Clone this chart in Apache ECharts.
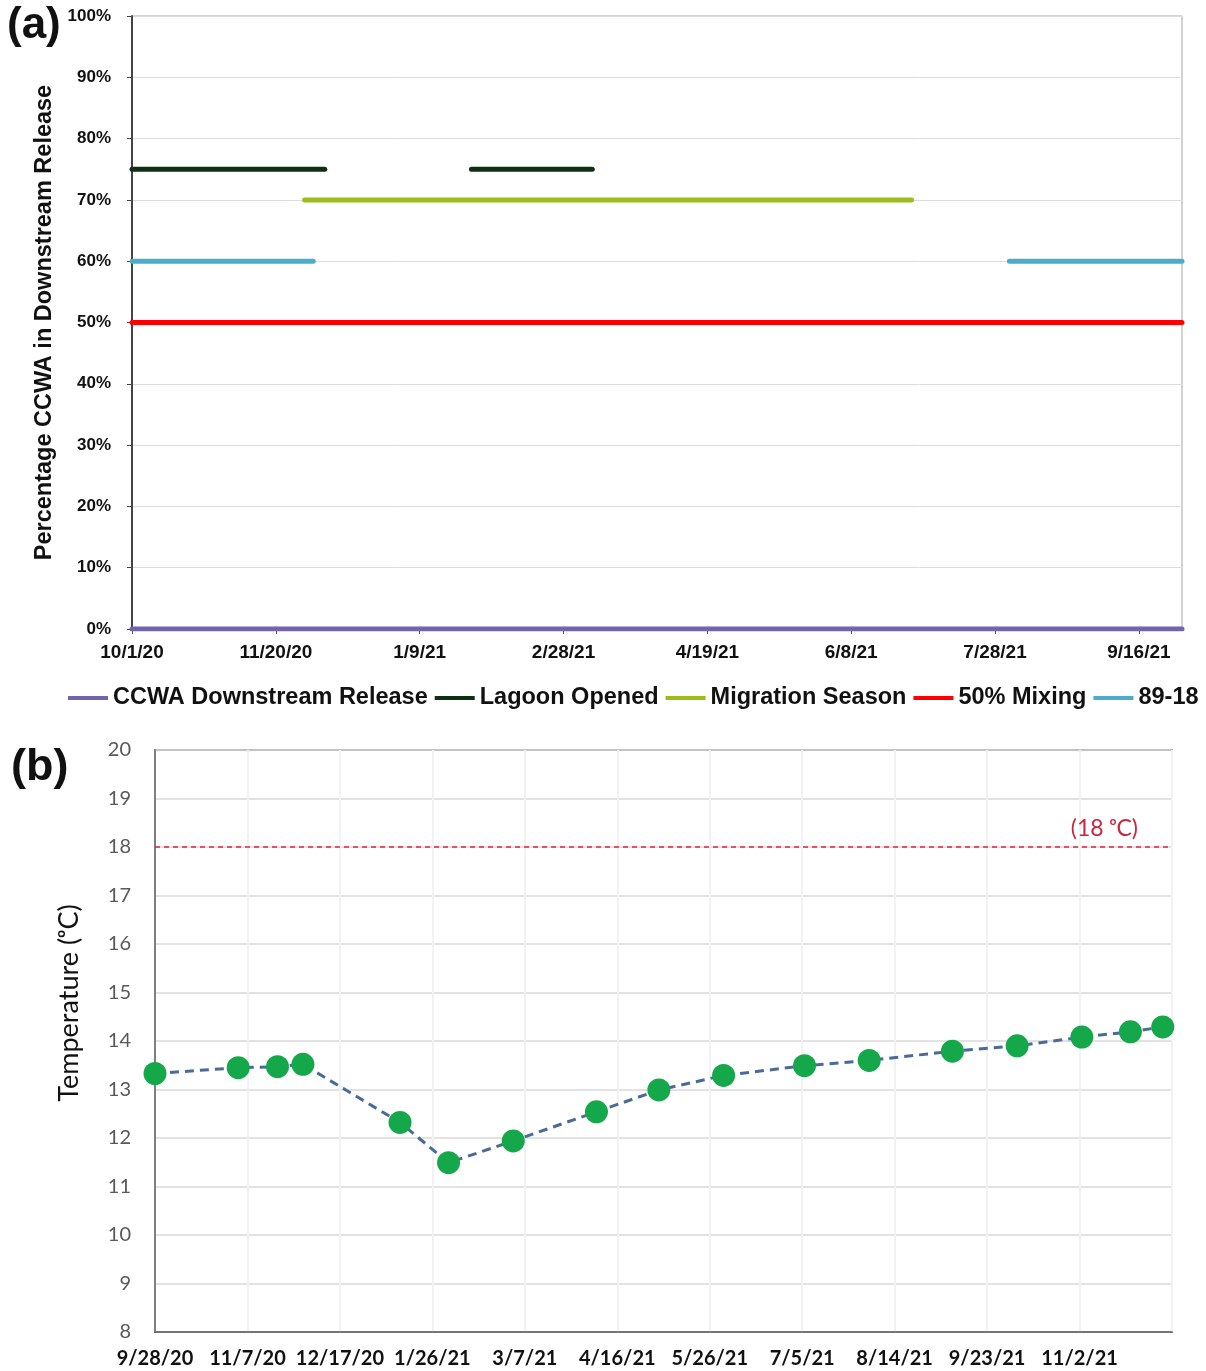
<!DOCTYPE html>
<html>
<head>
<meta charset="utf-8">
<script src="https://cdn.jsdelivr.net/npm/echarts@6/dist/echarts.min.js"></script>
<style>
html,body{margin:0;padding:0;background:#fff;}
#c{width:1206px;height:1371px;}
</style>
</head>
<body>
<div id="c"></div>
<script>
// ---------- Panel (a) data ----------
const aStart = '10/1/20';
const aEnd = '10/1/21';
const aTickStepDays = 50;
const ccwaPeriods = [['10/1/20', '10/1/21']];
const ccwaLevel = 0;
const lagoonPeriods = [['10/1/20', '12/7/20'], ['1/27/21', '3/10/21']];
const lagoonLevel = 75;
const migrationPeriods = [['11/30/20', '6/29/21']];
const migrationLevel = 70;
const mixingPeriods = [['10/1/20', '10/1/21']];
const mixingLevel = 50;
const order8918Periods = [['10/1/20', '12/3/20'], ['8/2/21', '10/1/21']];
const order8918Level = 60;
const aLegend = ['CCWA Downstream Release', 'Lagoon Opened', 'Migration Season', '50% Mixing', '89-18'];

// ---------- Panel (b) data ----------
const bStart = '9/28/20';
const bEnd = '12/12/21';
const bTickStepDays = 40;
const tempDates = ['9/28/20','11/3/20','11/20/20','12/1/20','1/12/21','2/2/21','3/2/21','4/7/21','5/4/21','6/1/21','7/6/21','8/3/21','9/8/21','10/6/21','11/3/21','11/24/21','12/8/21'];
const tempValues = [13.33,13.45,13.47,13.52,12.32,11.49,11.94,12.54,12.99,13.29,13.49,13.6,13.79,13.9,14.08,14.19,14.29];
const thresholdTemp = 18;

// ---------- helpers ----------
function dayNum(s){ const p = s.split('/').map(Number); return Date.UTC(2000 + p[2], p[0] - 1, p[1]) / 86400000; }
function fmt(days, origin){ const d = new Date((origin + days) * 86400000); return (d.getUTCMonth()+1) + '/' + d.getUTCDate() + '/' + String(d.getUTCFullYear()).slice(2); }
const aO = dayNum(aStart), bO = dayNum(bStart);

const colors = {
  'CCWA Downstream Release': '#7263aa',
  'Lagoon Opened': '#0f2f14',
  'Migration Season': '#9cbc1c',
  '50% Mixing': '#ff0000',
  '89-18': '#4badc8'
};
function segSeries(name, periods, level){
  return periods.map(p => ({
    name: name, type: 'line', xAxisIndex: 0, yAxisIndex: 0,
    data: [[dayNum(p[0]) - aO, level], [dayNum(p[1]) - aO, level]],
    symbol: 'none', silent: true,
    lineStyle: {color: colors[name], width: 5, cap: 'round'},
    itemStyle: {color: colors[name]}
  }));
}

const series = [].concat(
  segSeries('CCWA Downstream Release', ccwaPeriods, ccwaLevel),
  segSeries('Lagoon Opened', lagoonPeriods, lagoonLevel),
  segSeries('Migration Season', migrationPeriods, migrationLevel),
  segSeries('50% Mixing', mixingPeriods, mixingLevel),
  segSeries('89-18', order8918Periods, order8918Level)
);

series.push({
  name: 'Temperature', type: 'line', xAxisIndex: 1, yAxisIndex: 1,
  data: tempDates.map((d, i) => [dayNum(d) - bO, tempValues[i]]),
  symbol: 'circle', symbolSize: 23,
  itemStyle: {color: '#14a84b'},
  lineStyle: {color: '#4a6a98', width: 3, type: [9, 6]},
  z: 5,
  markLine: {
    silent: true, symbol: 'none',
    lineStyle: {color: '#e3213f', type: [5, 4], width: 1.5},
    label: {show: true, position: 'insideEndTop', formatter: '(18 ᵒC)', color: '#c8283f', fontSize: 23, fontFamily: 'Lato', distance: [34, 7]},
    data: [{yAxis: thresholdTemp}]
  }
});

const chart = echarts.init(document.getElementById('c'));
chart.setOption({
  animation: false,
  backgroundColor: '#fff',
  grid: [
    {left: 132, top: 16, right: 24, height: 613, show: true, borderColor: '#a6a6a6', borderWidth: 1},
    {left: 155, top: 750, right: 34, height: 582, show: true, borderColor: '#595959', borderWidth: 1.5}
  ],
  legend: {
    data: aLegend, top: 686, left: 68, width: 1138, padding: 0,
    icon: 'rect', itemWidth: 40, itemHeight: 4, itemGap: 7,
    textStyle: {fontFamily: 'Liberation Sans', fontWeight: 'bold', fontSize: 23.5, color: '#111'}
  },
  graphic: [
    {type: 'text', left: 7, top: 4, style: {text: '(a)', font: 'bold 44px "Liberation Sans"', fill: '#111'}},
    {type: 'text', left: 11, top: 745, style: {text: '(b)', font: 'bold 45px "Liberation Sans"', fill: '#111'}}
  ],
  xAxis: [
    {
      type: 'value', gridIndex: 0, min: 0, max: dayNum(aEnd) - aO, interval: aTickStepDays,
      axisLine: {lineStyle: {color: '#555', width: 1.5}},
      axisTick: {show: true, length: 5, lineStyle: {color: '#555'}},
      splitLine: {show: false},
      axisLabel: {showMaxLabel: false, margin: 14, color: '#111', fontFamily: 'Liberation Sans', fontWeight: 'bold', fontSize: 19,
        formatter: v => fmt(v, aO)}
    },
    {
      type: 'value', gridIndex: 1, min: 0, max: dayNum(bEnd) - bO, interval: bTickStepDays,
      axisLine: {lineStyle: {color: '#595959', width: 1.5}},
      axisTick: {show: false},
      splitLine: {show: true, lineStyle: {color: '#f2f2f2', width: 2}},
      axisLabel: {showMaxLabel: false, margin: 17, color: '#111', fontFamily: 'Lato', fontWeight: 'bold', fontSize: 20,
        formatter: v => fmt(v, bO)}
    }
  ],
  yAxis: [
    {
      type: 'value', gridIndex: 0, min: 0, max: 100, interval: 10,
      name: 'Percentage CCWA in Downstream Release', nameLocation: 'middle', nameGap: 72,
      nameTextStyle: {fontFamily: 'Liberation Sans', fontWeight: 'bold', fontSize: 23.5, color: '#111'},
      axisLine: {show: true, lineStyle: {color: '#444', width: 2}},
      axisTick: {show: true, length: 5, lineStyle: {color: '#444'}},
      splitLine: {show: true, lineStyle: {color: '#dcdcdc'}},
      axisLabel: {margin: 21, color: '#111', fontFamily: 'Liberation Sans', fontWeight: 'bold', fontSize: 17,
        formatter: v => v + '%'}
    },
    {
      type: 'value', gridIndex: 1, min: 8, max: 20, interval: 1,
      name: 'Temperature (ᵒC)', nameLocation: 'middle', nameGap: 72,
      nameTextStyle: {fontFamily: 'Lato', fontSize: 27, color: '#111', padding: [0, 0, 0, 76]},
      axisLine: {show: true, lineStyle: {color: '#595959', width: 1.5}},
      axisTick: {show: false},
      splitLine: {show: true, lineStyle: {color: '#d9d9d9', width: 1.5}},
      axisLabel: {margin: 24, color: '#595959', fontFamily: 'Lato', fontSize: 20}
    }
  ],
  series: series
});
</script>
</body>
</html>
